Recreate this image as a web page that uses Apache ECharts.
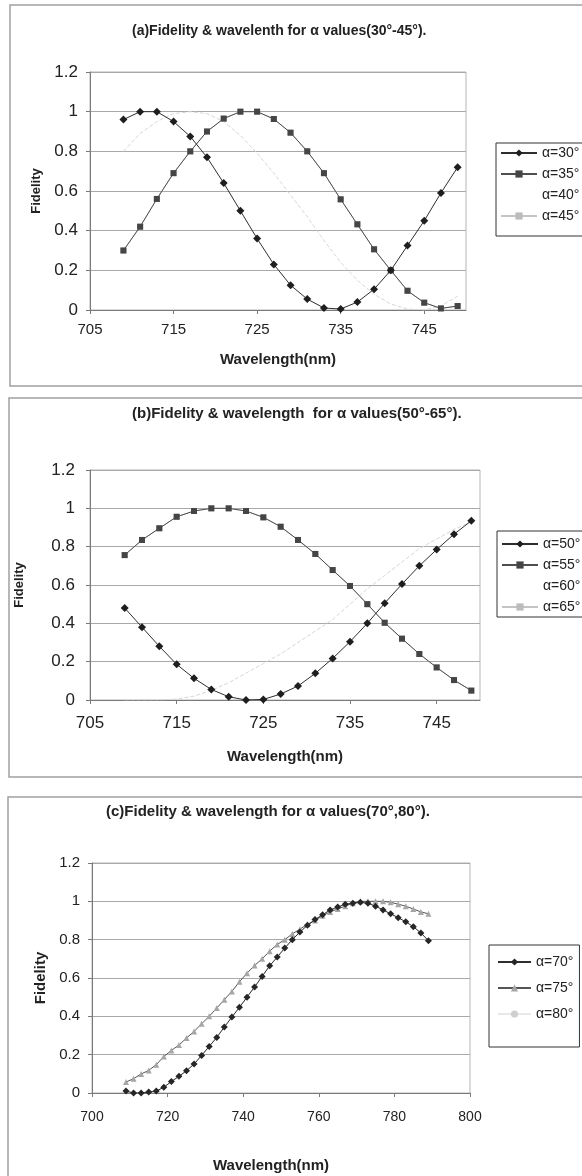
<!DOCTYPE html>
<html>
<head>
<meta charset="utf-8">
<title>Fidelity & wavelength</title>
<script src="https://cdn.jsdelivr.net/npm/echarts@6/dist/echarts.min.js"></script>
<style>
  html, body { margin: 0; padding: 0; background: #fff; }
  #main { width: 582px; height: 1176px; }
</style>
</head>
<body>
<div id="main"></div>
<script>
// 波长 (nm)
var wlAB = [709, 711, 713, 715, 717, 719, 721, 723, 725, 727, 729, 731, 733, 735, 737, 739, 741, 743, 745, 747, 749];
var wlC = [709, 711, 713, 715, 717, 719, 721, 723, 725, 727, 729, 731, 733, 735, 737, 739, 741, 743, 745, 747, 749,
           751, 753, 755, 757, 759, 761, 763, 765, 767, 769, 771, 773, 775, 777, 779, 781, 783, 785, 787, 789];

// (a) 30°-45°
var fA30 = [0.96, 1.0, 1.0, 0.95, 0.875, 0.77, 0.64, 0.50, 0.36, 0.23, 0.125, 0.055, 0.01, 0.005, 0.04, 0.105, 0.20, 0.325, 0.45, 0.59, 0.72];
var fA35 = [0.30, 0.42, 0.56, 0.69, 0.80, 0.90, 0.965, 1.0, 1.0, 0.963, 0.894, 0.80, 0.69, 0.558, 0.432, 0.306, 0.20, 0.097, 0.037, 0.008, 0.02];
var fA40 = [0.80, 0.89, 0.95, 0.99, 1.0, 0.99, 0.95, 0.88, 0.79, 0.69, 0.58, 0.47, 0.35, 0.24, 0.15, 0.08, 0.03, 0.005, 0.0, 0.02, 0.07];
var fA45 = [0.30, 0.42, 0.56, 0.69, 0.80, 0.90, 0.965, 1.0, 1.0, 0.963, 0.894, 0.80, 0.69, 0.558, 0.432, 0.306, 0.20, 0.097, 0.037, 0.008, 0.02];

// (b) 50°-65°
var fB50 = [0.48, 0.38, 0.28, 0.186, 0.113, 0.055, 0.017, 0.0, 0.003, 0.031, 0.073, 0.139, 0.217, 0.304, 0.40, 0.505, 0.605, 0.70, 0.785, 0.865, 0.935];
var fB55 = [0.756, 0.835, 0.896, 0.956, 0.986, 1.0, 1.0, 0.986, 0.953, 0.904, 0.835, 0.762, 0.678, 0.595, 0.50, 0.403, 0.32, 0.24, 0.17, 0.104, 0.049];
var fB60 = [0.0, 0.0, 0.0, 0.005, 0.02, 0.05, 0.09, 0.14, 0.19, 0.24, 0.30, 0.36, 0.42, 0.50, 0.58, 0.65, 0.72, 0.79, 0.84, 0.89, 0.93];
var fB65 = [0.756, 0.835, 0.896, 0.956, 0.986, 1.0, 1.0, 0.986, 0.953, 0.904, 0.835, 0.762, 0.678, 0.595, 0.50, 0.403, 0.32, 0.24, 0.17, 0.104, 0.049];

// (c) 70°,80°
var fC70 = [0.01, 0.0, 0.0, 0.005, 0.01, 0.03, 0.06, 0.087, 0.116, 0.151, 0.196, 0.243, 0.29, 0.344, 0.396, 0.447, 0.50, 0.553, 0.608, 0.664, 0.709,
            0.756, 0.80, 0.84, 0.875, 0.905, 0.93, 0.955, 0.97, 0.985, 0.99, 0.995, 0.99, 0.975, 0.955, 0.935, 0.915, 0.893, 0.868, 0.835, 0.795];
var fC75 = [0.057, 0.075, 0.099, 0.118, 0.148, 0.19, 0.222, 0.25, 0.287, 0.321, 0.361, 0.40, 0.443, 0.487, 0.53, 0.58, 0.625, 0.665, 0.70, 0.74, 0.775,
            0.80, 0.83, 0.855, 0.88, 0.90, 0.925, 0.945, 0.96, 0.975, 0.99, 1.0, 1.0, 1.0, 1.0, 0.995, 0.985, 0.975, 0.96, 0.945, 0.935];
var fC80 = [0.01, 0.0, 0.0, 0.005, 0.01, 0.03, 0.06, 0.087, 0.116, 0.151, 0.196, 0.243, 0.29, 0.344, 0.396, 0.447, 0.50, 0.553, 0.608, 0.664, 0.709,
            0.756, 0.80, 0.84, 0.875, 0.905, 0.93, 0.955, 0.97, 0.985, 0.99, 0.995, 0.99, 0.975, 0.955, 0.935, 0.915, 0.893, 0.868, 0.835, 0.795];

// 坐标轴范围和刻度
var xAxisAB = [705, 750, 10];
var xAxisC = [700, 800, 20];
var yAxisAll = [0, 1.2, 0.2];

var titles = [
  '(a)Fidelity & wavelenth for α values(30°-45°).',
  '(b)Fidelity & wavelength  for α values(50°-65°).',
  '(c)Fidelity & wavelength for α values(70°,80°).'
];

var FONT = '"Liberation Sans", Arial, sans-serif';

function pairs(xs, ys) {
  var out = [];
  for (let i = 0; i < xs.length; i++) {
    out.push([xs[i], ys[i]]);
  }
  return out;
}

function line(name, gi, xs, ys, lineColor, markColor, symbol, size, z, dashed) {
  return {
    name: name,
    type: 'line',
    xAxisIndex: gi,
    yAxisIndex: gi,
    data: pairs(xs, ys),
    symbol: symbol,
    symbolSize: size,
    showSymbol: symbol !== 'none',
    z: z,
    lineStyle: { color: lineColor, width: 1, type: dashed ? 'dashed' : 'solid' },
    itemStyle: { color: markColor, borderWidth: 0 },
    emphasis: { disabled: true }
  };
}

function xAxis(gi, range, labelSize, margin, nameGap, nameSize, hideMax, namePad) {
  return {
    gridIndex: gi,
    type: 'value',
    min: range[0], max: range[1], interval: range[2],
    axisLine: { lineStyle: { color: '#7a7a7a', width: 1 } },
    axisTick: { length: 4, lineStyle: { color: '#7a7a7a' } },
    axisLabel: { fontSize: labelSize, color: '#222', fontFamily: FONT, margin: margin, showMaxLabel: !hideMax },
    splitLine: { show: false },
    name: 'Wavelength(nm)',
    nameLocation: 'middle',
    nameGap: nameGap,
    nameTextStyle: { fontSize: nameSize, fontWeight: 'bold', color: '#222', fontFamily: FONT, padding: namePad || 0 }
  };
}

function yAxis(gi, labelSize, margin, nameGap, nameSize) {
  return {
    gridIndex: gi,
    type: 'value',
    min: yAxisAll[0], max: yAxisAll[1], interval: yAxisAll[2],
    axisLine: { show: true, lineStyle: { color: '#7a7a7a', width: 1 } },
    axisTick: { show: true, length: 4, lineStyle: { color: '#7a7a7a' } },
    axisLabel: { fontSize: labelSize, color: '#222', fontFamily: FONT, margin: margin },
    splitLine: { show: true, lineStyle: { color: '#a9a9a9', width: 1 } },
    name: 'Fidelity',
    nameLocation: 'middle',
    nameRotate: 90,
    nameGap: nameGap,
    nameTextStyle: { fontSize: nameSize, fontWeight: 'bold', color: '#222', fontFamily: FONT }
  };
}

// 图例：看不清的系列只留文字
function legend(names, hidden, left, top, pad, gap, width) {
  var items = names.map(function (n) {
    if (hidden.indexOf(n) >= 0) {
      return { name: n, itemStyle: { opacity: 0 }, lineStyle: { opacity: 0 } };
    }
    return { name: n };
  });
  return {
    data: items,
    orient: 'vertical',
    left: left, top: top,
    padding: pad,
    itemGap: gap,
    itemWidth: width,
    itemHeight: 9,
    borderColor: '#333',
    borderWidth: 1,
    selectedMode: false,
    textStyle: { fontSize: 14, color: '#222', fontFamily: FONT }
  };
}

var chart = echarts.init(document.getElementById('main'), null, { renderer: 'canvas' });

var option = {
  animation: false,
  backgroundColor: '#fff',
  title: [
    { text: titles[0], left: 132, top: 24, padding: 0, textStyle: { fontSize: 14, fontWeight: 'bold', color: '#222', fontFamily: FONT } },
    { text: titles[1], left: 132, top: 406, padding: 0, textStyle: { fontSize: 15, fontWeight: 'bold', color: '#222', fontFamily: FONT } },
    { text: titles[2], left: 106, top: 804, padding: 0, textStyle: { fontSize: 15, fontWeight: 'bold', color: '#222', fontFamily: FONT } }
  ],
  graphic: [
    // 每个图的外框
    { type: 'rect', silent: true, z: -10, shape: { x: 10, y: 5, width: 600, height: 381 }, style: { fill: 'none', stroke: '#a0a0a0', lineWidth: 1.5 } },
    { type: 'rect', silent: true, z: -10, shape: { x: 9, y: 398, width: 600, height: 379 }, style: { fill: 'none', stroke: '#a0a0a0', lineWidth: 1.5 } },
    { type: 'rect', silent: true, z: -10, shape: { x: 8, y: 797, width: 600, height: 420 }, style: { fill: 'none', stroke: '#a0a0a0', lineWidth: 1.5 } }
  ],
  grid: [
    { left: 90, top: 72, width: 376, height: 238, show: true, borderColor: '#b5b5b5', borderWidth: 1 },
    { left: 90, top: 470, width: 390, height: 230, show: true, borderColor: '#b5b5b5', borderWidth: 1 },
    { left: 92, top: 863, width: 378, height: 230, show: true, borderColor: '#b5b5b5', borderWidth: 1 }
  ],
  xAxis: [
    xAxis(0, xAxisAB, 15, 12, 42, 15, true),
    xAxis(1, xAxisAB, 17, 15, 49, 15, true),
    xAxis(2, xAxisC, 14, 17, 65, 15, false, [0, 20, 0, 0])
  ],
  yAxis: [
    yAxis(0, 17, 12, 47, 13),
    yAxis(1, 17, 15, 64, 13),
    yAxis(2, 15, 12, 44, 15)
  ],
  legend: [
    legend(['α=30°', 'α=35°', 'α=40°', 'α=45°'], ['α=40°'], 496, 143, [3, 6, 13, 4], 7, 36),
    legend(['α=50°', 'α=55°', 'α=60°', 'α=65°'], ['α=60°'], 497, 531, [6, 6, 3, 4], 7, 36),
    legend(['α=70°', 'α=75°', 'α=80°'], [], 489, 945, [10, 6, 26, 8], 12, 33)
  ],
  series: [
    line('α=30°', 0, wlAB, fA30, '#2e2e2e', '#1e1e1e', 'diamond', 8, 4),
    line('α=35°', 0, wlAB, fA35, '#4e4e4e', '#454545', 'rect', 6, 3),
    line('α=40°', 0, wlAB, fA40, '#d6d6d6', '#d6d6d6', 'none', 0, 2, true),
    line('α=45°', 0, wlAB, fA45, '#c4c4c4', '#bcbcbc', 'rect', 6, 1),

    line('α=50°', 1, wlAB, fB50, '#2e2e2e', '#1e1e1e', 'diamond', 8, 4),
    line('α=55°', 1, wlAB, fB55, '#4e4e4e', '#454545', 'rect', 6, 3),
    line('α=60°', 1, wlAB, fB60, '#d6d6d6', '#d6d6d6', 'none', 0, 2, true),
    line('α=65°', 1, wlAB, fB65, '#c4c4c4', '#bcbcbc', 'rect', 6, 1),

    line('α=70°', 2, wlC, fC70, '#2e2e2e', '#262626', 'diamond', 7, 4),
    line('α=75°', 2, wlC, fC75, '#555555', '#a6a6a6', 'triangle', 6, 3),
    line('α=80°', 2, wlC, fC80, '#e8e8e8', '#cfcfcf', 'circle', 3, 1)
  ]
};

chart.setOption(option);
</script>
</body>
</html>
